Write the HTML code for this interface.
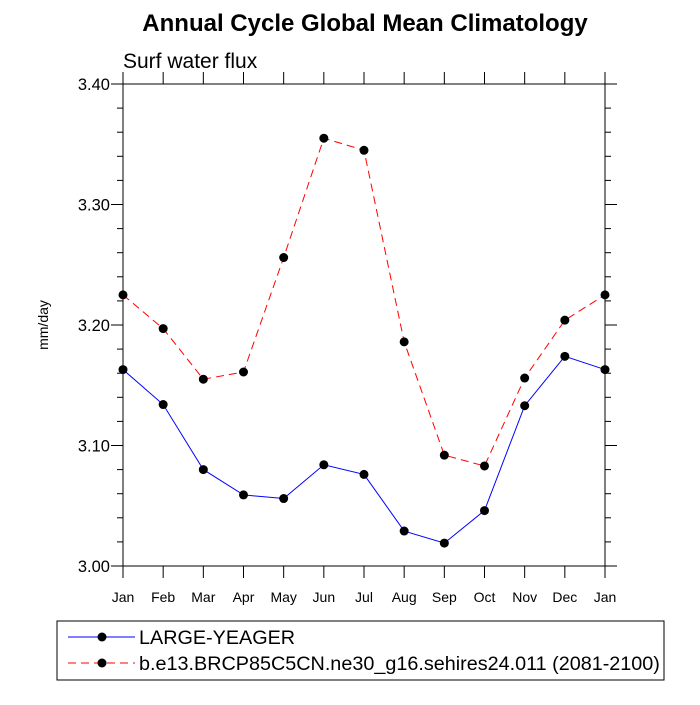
<!DOCTYPE html>
<html><head><meta charset="utf-8"><style>
body{margin:0;background:#fff;}
svg text{font-family:"Liberation Sans",sans-serif;}
</style></head><body>
<svg id="chart" width="700" height="700" viewBox="0 0 700 700" xmlns="http://www.w3.org/2000/svg">
<text x="365" y="31" text-anchor="middle" font-size="24" font-weight="bold">Annual Cycle Global Mean Climatology</text>
<text x="123" y="68" font-size="21">Surf water flux</text>
<text transform="translate(48,325) rotate(-90)" text-anchor="middle" font-size="14">mm/day</text>
<g id="axes"></g>
<g id="series"></g>
<rect x="57" y="621" width="607" height="59" fill="none" stroke="#000" stroke-width="1"/>
<g>
<line x1="68" y1="637" x2="135" y2="637" stroke="#0000ff" stroke-width="1"/>
<circle cx="102" cy="637" r="4.5" fill="#000"/>
<text x="139" y="644" font-size="19.8">LARGE-YEAGER</text>
</g>
<g>
<line x1="68" y1="663" x2="135" y2="663" stroke="#ff0000" stroke-width="1" stroke-dasharray="8,5"/>
<circle cx="102" cy="663" r="4.5" fill="#000"/>
<text x="139" y="670" font-size="19.8">b.e13.BRCP85C5CN.ne30_g16.sehires24.011 (2081-2100)</text>
</g>
</svg>
<script>
const months=["Jan","Feb","Mar","Apr","May","Jun","Jul","Aug","Sep","Oct","Nov","Dec","Jan"];
const seriesBlue=[3.163,3.134,3.080,3.059,3.056,3.084,3.076,3.029,3.019,3.046,3.133,3.174,3.163];
const seriesRed=[3.225,3.197,3.155,3.161,3.256,3.355,3.345,3.186,3.092,3.083,3.156,3.204,3.225];
const yTicks=[3.00,3.10,3.20,3.30,3.40];
const yTickLabels=["3.00","3.10","3.20","3.30","3.40"];
const X0=123,X1=605,Y0=566,Y1=84,YMIN=3.0,YMAX=3.4;
const NS="http://www.w3.org/2000/svg";
function xs(i){return X0+(X1-X0)*i/(months.length-1);}
function ys(v){return Y0-(v-YMIN)/(YMAX-YMIN)*(Y0-Y1);}
function mk(t,a,p){const e=document.createElementNS(NS,t);for(const k in a)e.setAttribute(k,a[k]);p.appendChild(e);return e;}
const ax=document.getElementById('axes');
const frame=mk('rect',{x:X0,y:Y1,width:X1-X0,height:Y0-Y1,fill:'none',stroke:'#000','stroke-width':1},ax);


months.forEach((m,i)=>{
  const x=xs(i);
  mk('line',{x1:x,y1:Y0,x2:x,y2:Y0+12,stroke:'#000'},ax);
  mk('line',{x1:x,y1:Y1,x2:x,y2:Y1-12,stroke:'#000'},ax);
  const t=mk('text',{x:x,y:Y0+36,'text-anchor':'middle','font-size':14},ax);
  t.textContent=m;
  
  
});
for(let v=YMIN;v<=YMAX+1e-9;v+=0.02){
  const y=ys(v);
  mk('line',{x1:X0,y1:y,x2:X0-6,y2:y,stroke:'#000'},ax);
  mk('line',{x1:X1,y1:y,x2:X1+6,y2:y,stroke:'#000'},ax);
}
yTicks.forEach((v,i)=>{
  const y=ys(v);
  mk('line',{x1:X0,y1:y,x2:X0-12,y2:y,stroke:'#000'},ax);
  mk('line',{x1:X1,y1:y,x2:X1+12,y2:y,stroke:'#000'},ax);
  const t=mk('text',{x:X0-13,y:y+6,'text-anchor':'end','font-size':16.5},ax);
  t.textContent=yTickLabels[i];
  
  
});
const sg=document.getElementById('series');
function draw(vals,color,dash,name){
  const g=mk('g',{},sg);
  
  
  const pts=vals.map((v,i)=>xs(i)+','+ys(v)).join(' ');
  const a={points:pts,fill:'none',stroke:color,'stroke-width':1};
  if(dash)a['stroke-dasharray']=dash;
  mk('polyline',a,g);
  vals.forEach((v,i)=>{
    const c=mk('circle',{cx:xs(i),cy:ys(v),r:4.5,fill:'#000'},g);
    
    
  });
}
draw(seriesBlue,'#0000ff',null,'series-large-yeager');
draw(seriesRed,'#ff0000','8,5','series-brcp85');
</script>
</body></html>
